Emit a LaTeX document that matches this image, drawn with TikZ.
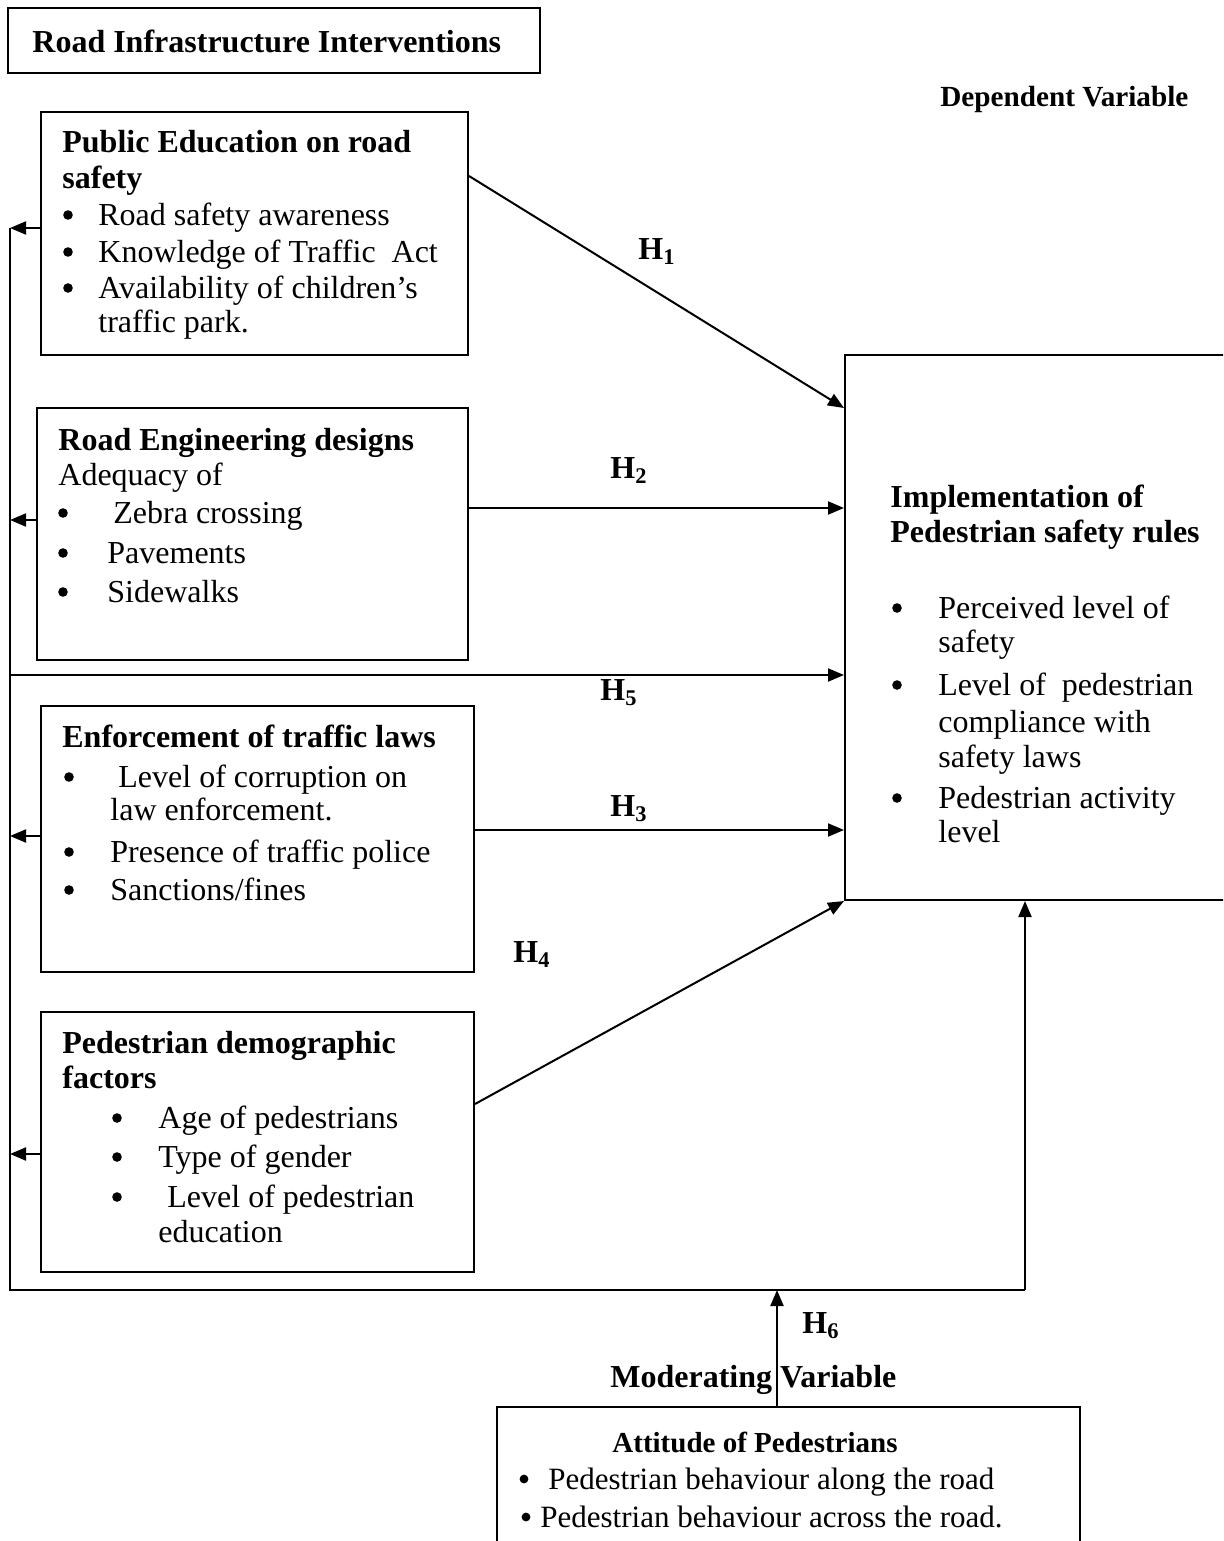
\documentclass[tikz,border=0pt]{standalone}
\usepackage{fontspec}
\setmainfont{Liberation Serif}
\usetikzlibrary{arrows.meta,fit}
\begin{document}
\begin{tikzpicture}[x=0.5pt,y=-0.5pt,
  box/.style={draw,line width=1pt,inner sep=0pt},
  txt/.style={anchor=base west,inner sep=0pt,font=\fontsize{16}{19}\selectfont},
  atxt/.style={anchor=base west,inner sep=0pt,font=\fontsize{15.5}{18}\selectfont},
  btxt/.style={anchor=base west,inner sep=0pt,font=\fontsize{16}{19}\selectfont\bfseries},
  stxt/.style={anchor=base west,inner sep=0pt,font=\fontsize{14.5}{18}\selectfont\bfseries},
  dtxt/.style={anchor=base west,inner sep=0pt,font=\fontsize{14.6}{18}\selectfont\bfseries},
  dot/.style={circle,fill,inner sep=0pt,minimum size=4.8pt},
  arr/.style={line width=1pt,-{Triangle[length=8pt,width=6.5pt]}},
  ln/.style={line width=1pt}]
\useasboundingbox (0,0) rectangle (1223,1541);
\clip (0,0) rectangle (1223,1541);

% boxes
\node[box,fit={(8,8) (540,73)}] (tb) {};
\node[box,fit={(41,112) (468,355)}] (b1) {};
\node[box,fit={(37,408) (468,660)}] (b2) {};
\node[box,fit={(41,706) (474,972)}] (b3) {};
\node[box,fit={(41,1012) (474,1272)}] (b4) {};
\node[box,fit={(845,355) (1262,900)}] (rb) {};
\node[box,fit={(497,1407) (1080,1600)}] (att) {};

% title texts
\node[btxt] (ttl) at (32,53) {Road Infrastructure Interventions};
\node[dtxt] (dep) at (940,107) {Dependent Variable};

% box 1
\node[btxt] (b1h1) at (62,153) {Public Education on road};
\node[btxt] (b1h2) at (62,188) {safety};
\node[dot] (b1p1) at (68,215) {};
\node[txt] (b1t1) at (98,225) {Road safety awareness};
\node[dot] (b1p2) at (68,252) {};
\node[txt] (b1t2) at (98,262) {Knowledge of Traffic\ \ Act};
\node[dot] (b1p3) at (68,288) {};
\node[txt] (b1t3) at (98,298) {Availability of children’s};
\node[txt] (b1t4) at (98,332) {traffic park.};

% box 2
\node[btxt] (b2h) at (58,450) {Road Engineering designs};
\node[txt] (b2s) at (58,485) {Adequacy of};
\node[dot] (b2p1) at (63,513) {};
\node[txt] (b2t1) at (113,523) {Zebra crossing};
\node[dot] (b2p2) at (63,553) {};
\node[txt] (b2t2) at (107,563) {Pavements};
\node[dot] (b2p3) at (63,592) {};
\node[txt] (b2t3) at (107,602) {Sidewalks};

% box 3
\node[btxt] (b3h) at (62,747) {Enforcement of traffic laws};
\node[dot] (b3p1) at (69,777) {};
\node[txt] (b3t1) at (118,787) {Level of corruption on};
\node[txt] (b3t2) at (110,820) {law enforcement.};
\node[dot] (b3p2) at (69,852) {};
\node[txt] (b3t3) at (110,862) {Presence of traffic police};
\node[dot] (b3p3) at (69,890) {};
\node[txt] (b3t4) at (110,900) {Sanctions/fines};

% box 4
\node[btxt] (b4h1) at (62,1053) {Pedestrian demographic};
\node[btxt] (b4h2) at (62,1088) {factors};
\node[dot] (b4p1) at (117,1118) {};
\node[txt] (b4t1) at (158,1128) {Age of pedestrians};
\node[dot] (b4p2) at (117,1157) {};
\node[txt] (b4t2) at (158,1167) {Type of gender};
\node[dot] (b4p3) at (117,1197) {};
\node[txt] (b4t3) at (167,1207) {Level of pedestrian};
\node[txt] (b4t4) at (158,1242) {education};

% right box
\node[btxt] (rbh1) at (890,507) {Implementation of};
\node[btxt] (rbh2) at (890,542) {Pedestrian safety rules};
\node[dot] (rbp1) at (897,608) {};
\node[txt] (rbt1) at (938,618) {Perceived level of};
\node[txt] (rbt2) at (938,652) {safety};
\node[dot] (rbp2) at (897,685) {};
\node[txt] (rbt3) at (938,695) {Level of\ \ pedestrian};
\node[txt] (rbt4) at (938,732) {compliance with};
\node[txt] (rbt5) at (938,767) {safety laws};
\node[dot] (rbp3) at (897,798) {};
\node[txt] (rbt6) at (938,808) {Pedestrian activity};
\node[txt] (rbt7) at (938,842) {level};

% attitude box
\node[btxt] (mod) at (610,1387) {Moderating Variable};
\node[stxt] (ath) at (612,1452) {Attitude of Pedestrians};
\node[dot,minimum size=4.4pt] (atp1) at (524,1479) {};
\node[atxt] (att1) at (548,1489) {Pedestrian behaviour along the road};
\node[dot,minimum size=4.4pt] (atp2) at (526,1517) {};
\node[atxt] (att2) at (540,1527) {Pedestrian behaviour across the road.};

% hypothesis labels
\node[btxt] (h1) at (638,259) {H\textsubscript{1}};
\node[btxt] (h2) at (610,478) {H\textsubscript{2}};
\node[btxt] (h5) at (600,700) {H\textsubscript{5}};
\node[btxt] (h3) at (610,816) {H\textsubscript{3}};
\node[btxt] (h4) at (513,962) {H\textsubscript{4}};
\node[btxt] (h6) at (802,1333) {H\textsubscript{6}};

% connector coordinates
\coordinate (l1) at (10,228);
\coordinate (l2) at (10,520);
\coordinate (l5) at (10,675);
\coordinate (l3) at (10,836);
\coordinate (l4) at (10,1154);
\coordinate (tbot) at (10,1290);
\coordinate (rbot) at (1025,1290);
\coordinate (h6top) at (777,1290);
\coordinate (s1) at (468,176);
\coordinate (e1) at (845,408);
\coordinate (y2) at (0,508);
\coordinate (y3) at (0,830);
\coordinate (s4) at (474,1104);

% connectors
\draw[arr] (b1.west |- l1) -- (l1);
\draw[arr] (b2.west |- l2) -- (l2);
\draw[arr] (b3.west |- l3) -- (l3);
\draw[arr] (b4.west |- l4) -- (l4);
\draw[ln] (l1) -- (tbot) -- (rbot);
\draw[arr] (rbot) -- (rb.south -| rbot);
\draw[arr] (l5) -- (rb.west |- l5);
\draw[arr] (b1.east |- s1) -- (rb.west |- e1);
\draw[arr] (b2.east |- y2) -- (rb.west |- y2);
\draw[arr] (b3.east |- y3) -- (rb.west |- y3);
\draw[arr] (b4.east |- s4) -- (rb.south west);
\draw[arr] (att.north -| h6top) -- (h6top);
\end{tikzpicture}
\end{document}
